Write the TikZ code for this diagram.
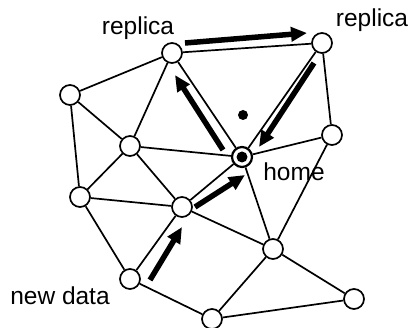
\documentclass[tikz,border=0pt]{standalone}
\usepackage{fontspec}
\setmainfont{Liberation Sans}
\usetikzlibrary{arrows.meta}

\begin{document}
\begin{tikzpicture}[
    x=1pt, y=-1pt,
    link/.style  = {line width=1.7pt},
    peer/.style  = {draw, line width=1.7pt, fill=white, circle,
                    minimum size=20pt, inner sep=0pt},
    flow/.style  = {line width=5.5pt, -{Triangle[length=16pt,width=14pt]}},
    tag/.style   = {font=\fontsize{24.5}{29}\selectfont, inner sep=0pt}
]
\useasboundingbox (0,0) rectangle (408,328);

% Overlay peers
\node[peer] (repA)  at (172, 53)  {};
\node[peer] (repB)  at (322, 43)  {};
\node[peer] (west1) at ( 70, 95)  {};
\node[peer] (mid1)  at (130,146)  {};
\node[peer, line width=2.2pt] (home) at (242,157) {};
\node[peer] (east1) at (332,135)  {};
\node[peer] (west2) at ( 80,197)  {};
\node[peer] (mid2)  at (182,207)  {};
\node[peer] (src)   at (130,279)  {};
\node[peer] (mid3)  at (273,249)  {};
\node[peer] (east2) at (354,299)  {};
\node[peer] (south) at (212,319)  {};
\fill (home) circle (5.5pt);

% Overlay links
\draw[link] (repA) -- (repB);
\draw[link] (repA) -- (west1);
\draw[link] (repA) -- (mid1);
\draw[link] (repA) -- (home);
\draw[link] (repB) -- (home);
\draw[link] (repB) -- (east1);
\draw[link] (west1) -- (mid1);
\draw[link] (west1) -- (west2);
\draw[link] (mid1) -- (home);
\draw[link] (mid1) -- (west2);
\draw[link] (mid1) -- (mid2);
\draw[link] (west2) -- (mid2);
\draw[link] (west2) -- (src);
\draw[link] (mid2) -- (home);
\draw[link] (mid2) -- (src);
\draw[link] (mid2) -- (mid3);
\draw[link] (home) -- (east1);
\draw[link] (home) -- (mid3);
\draw[link] (east1) -- (mid3);
\draw[link] (src) -- (south);
\draw[link] (mid3) -- (south);
\draw[link] (mid3) -- (east2);
\draw[link] (south) -- (east2);

% Key point of the data item
\node[circle, fill, minimum size=10pt, inner sep=0pt] (key) at (243,115) {};

% Routing of new data to home, then out to the replicas
\draw[flow] ([shift={(20,1)}]src.center)   -- ([shift={(0,20)}]mid2.center);
\draw[flow] ([shift={(13,0)}]mid2.center)  -- ([shift={(3,18)}]home.center);
\draw[flow] ([shift={(-19,-7)}]home.center) -- ([shift={(3,22)}]repA.center);
\draw[flow] ([shift={(13,-10)}]repA.center) -- ([shift={(-15,-10)}]repB.center);
\draw[flow] ([shift={(-8,20)}]repB.center) -- ([shift={(17,-10)}]home.center);

% Labels
\node[tag] (lblA)    at (138, 28) {replica};
\node[tag] (lblB)    at (372, 20) {replica};
\node[tag] (lblHome) at (294,172) {home};
\node[tag] (lblNew)  at ( 60,296) {new data};

\end{tikzpicture}
\end{document}
